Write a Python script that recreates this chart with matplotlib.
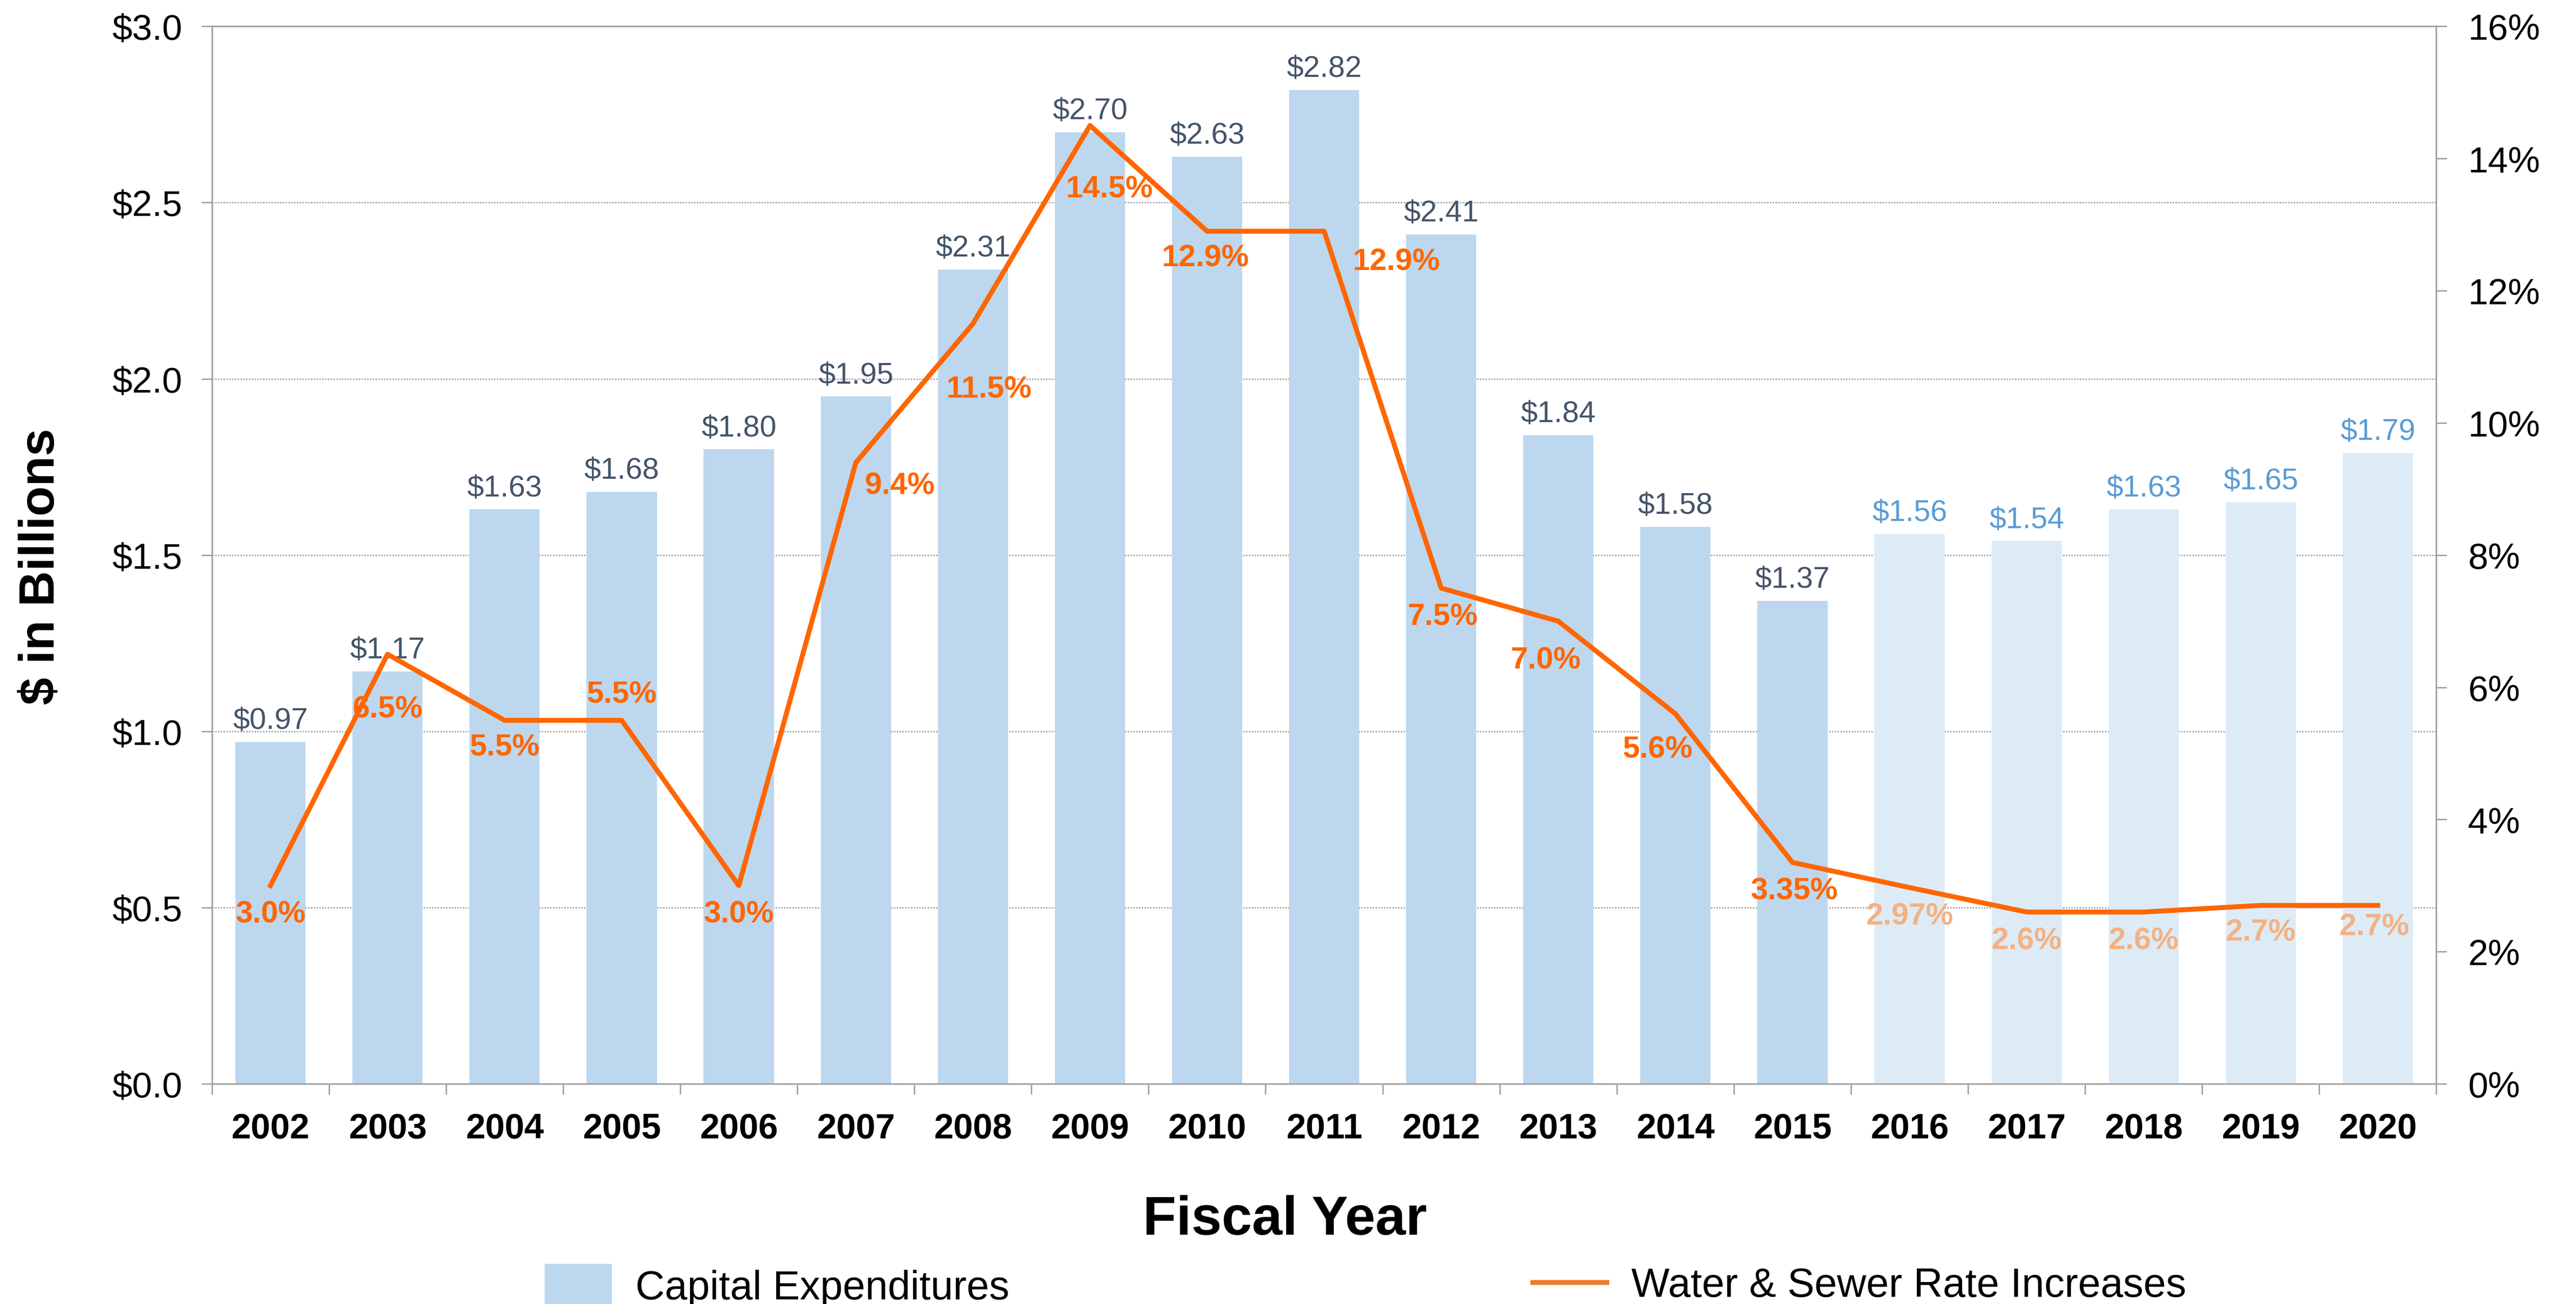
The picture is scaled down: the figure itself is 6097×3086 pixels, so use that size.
import matplotlib
matplotlib.use("Agg")
import matplotlib.pyplot as plt
from matplotlib.patches import Patch
from matplotlib.lines import Line2D

plt.rcParams['font.family'] = ['Liberation Sans', 'DejaVu Sans']

# data
years = ['2002', '2003', '2004', '2005', '2006', '2007', '2008', '2009', '2010', '2011',
         '2012', '2013', '2014', '2015', '2016', '2017', '2018', '2019', '2020']
capex = [0.97, 1.17, 1.63, 1.68, 1.80, 1.95, 2.31, 2.70, 2.63, 2.82,
         2.41, 1.84, 1.58, 1.37, 1.56, 1.54, 1.63, 1.65, 1.79]
rates = [3.0, 6.5, 5.5, 5.5, 3.0, 9.4, 11.5, 14.5, 12.9, 12.9,
         7.5, 7.0, 5.6, 3.35, 2.97, 2.6, 2.6, 2.7, 2.7]
rate_labels = ['3.0%', '6.5%', '5.5%', '5.5%', '3.0%', '9.4%', '11.5%', '14.5%', '12.9%', '12.9%',
               '7.5%', '7.0%', '5.6%', '3.35%', '2.97%', '2.6%', '2.6%', '2.7%', '2.7%']
n_actual = 14  # 2002-2015 actual, rest projected

# label offsets for the rate labels (points)
rate_off = [(0, -16), (0, -31), (0, -15), (0, 15), (0, -16), (25, -13), (9, -37), (11, -36),
            (-1, -15), (41, -17), (1, -16), (-7, -22), (-10, -20), (1, -16),
            (0, -16), (0, -16), (0, -16), (0, -15), (-2, -12)]

bar_col = ['#BDD7EE' if i < n_actual else '#DDEBF7' for i in range(len(years))]
val_col = ['#44546A' if i < n_actual else '#5B9BD5' for i in range(len(years))]
pct_col = ['#FF6600' if i < n_actual else '#F4B183' for i in range(len(years))]

fig = plt.figure(figsize=(6097 / 300, 3087 / 300), dpi=300)
ax = fig.add_axes([129 / 1568, 1 - 660 / 794, (1483 - 129) / 1568, (660 - 16.3) / 794])
ax2 = ax.twinx()

x = list(range(len(years)))
ax.bar(x, capex, width=0.6, color=bar_col, zorder=2)
for i, v in enumerate(capex):
    ax.annotate('$%.2f' % v, (i, v), xytext=(0, 4), textcoords='offset points',
                ha='center', va='bottom', fontsize=17, color=val_col[i])

ax.set_xlim(-0.5, len(years) - 0.5)
ax.set_ylim(0, 3.0)
ax.set_yticks([0, 0.5, 1.0, 1.5, 2.0, 2.5, 3.0])
ax.set_yticklabels(['$%.1f' % t for t in ax.get_yticks()], fontsize=20.5)
ax.set_xticks(x)
ax.set_xticklabels(years, fontsize=20, fontweight='bold')
ax.set_xticks([i - 0.5 for i in range(len(years) + 1)], minor=True)
ax.tick_params(axis='x', which='major', length=0, pad=16)
ax.tick_params(axis='x', which='minor', length=6, color='#A0A0A0', width=0.8)
ax.tick_params(axis='y', length=6, color='#A0A0A0', width=0.8, pad=11)
ax.yaxis.grid(True, linestyle=(0, (1, 1)), color='#A0A0A0', linewidth=0.8, zorder=0)
ax.set_axisbelow(True)
for s in ax.spines.values():
    s.set_color('#A0A0A0')
    s.set_linewidth(0.8)

ax2.plot(x, rates, color='#FF6600', linewidth=2.8, zorder=3)
for i, v in enumerate(rates):
    ax2.annotate(rate_labels[i], (i, v), xytext=rate_off[i], textcoords='offset points',
                 ha='center', va='center', fontsize=17.5, fontweight='bold', color=pct_col[i])
ax2.set_ylim(0, 16)
ax2.set_yticks(range(0, 17, 2))
ax2.set_yticklabels(['%d%%' % t for t in range(0, 17, 2)], fontsize=20.5)
ax2.tick_params(axis='y', length=6, color='#A0A0A0', width=0.8, pad=12)
for s in ax2.spines.values():
    s.set_color('#A0A0A0')
    s.set_linewidth(0.8)

fig.text(25 / 1568, 1 - 345 / 794, '$ in Billions', fontsize=28, fontweight='bold',
         rotation=90, ha='center', va='center')
fig.text(782 / 1568, 1 - 743 / 794, 'Fiscal Year', fontsize=31, fontweight='bold',
         ha='center', va='center')

fig.legend(handles=[Patch(color='#BDD7EE', label='Capital Expenditures')],
           loc='center left', bbox_to_anchor=(332 / 1568, 1 - 783 / 794), frameon=False,
           fontsize=23, borderpad=0, borderaxespad=0, handlelength=1.62, handleheight=1.2,
           handletextpad=0.6)
fig.legend(handles=[Line2D([], [], color='#ED7D31', linewidth=2.8, label='Water & Sewer Rate Increases')],
           loc='center left', bbox_to_anchor=(933 / 1568, 1 - 783 / 794), frameon=False,
           fontsize=23, borderpad=0, borderaxespad=0, handlelength=1.83, handletextpad=0.6)

fig.savefig('out.png', dpi=300, facecolor='white')
